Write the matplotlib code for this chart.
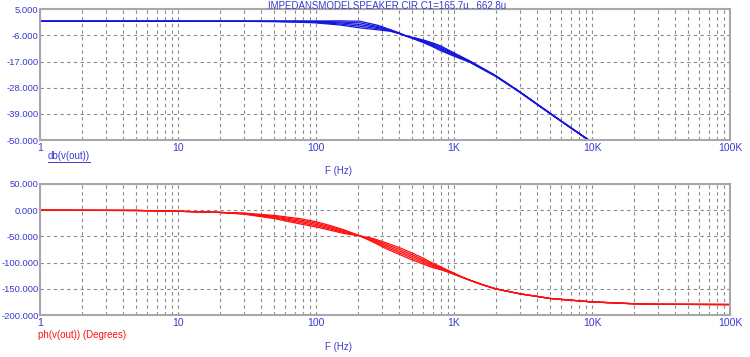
import matplotlib
matplotlib.use("Agg")
import matplotlib.pyplot as plt
from matplotlib.lines import Line2D
from matplotlib.ticker import FixedLocator, NullFormatter

plt.rcParams["font.family"] = ["Liberation Sans", "DejaVu Sans"]

# magnitude, dB, five runs of C1 from 165.7u to 662.8u
mag_freq = [1, 10, 30, 50, 70, 100, 150, 208, 280, 344, 400, 454, 520, 600, 700, 794,
            1000, 1302, 2000, 3000, 5000, 7000, 10000, 20000, 50000, 100000]
mag_c1 = [0, 0, 0, 0.05, 0.1, 0.1, 0.15, 0.0, -1.7, -3.5, -4.9, -6.3, -7.6, -9.0, -10.7, -12.3,
          -14.7, -17.3, -23.15, -29.9, -39.0, -44.9, -51.1, -63.1, -79.0, -91.0]
mag_c2 = [0, 0, 0, 0, 0, -0.1, -0.3, -0.7, -2.2, -3.7, -5.0, -6.3, -7.45, -8.7, -10.3, -11.8,
          -14.35, -17.15, -23.1, -29.85, -38.95, -44.85, -51.05, -63.05, -78.95, -90.95]
mag_c3 = [0, 0, -0.02, -0.05, -0.12, -0.3, -0.7, -1.4, -2.65, -3.85, -5.05, -6.3, -7.3, -8.45, -9.9, -11.3,
          -14.0, -17.0, -23.0, -29.8, -38.9, -44.8, -51.0, -63.0, -78.9, -90.9]
mag_c4 = [0, 0, -0.04, -0.1, -0.24, -0.5, -1.15, -2.1, -3.1, -4.0, -5.1, -6.3, -7.15, -8.2, -9.5, -10.8,
          -13.65, -16.85, -22.9, -29.75, -38.85, -44.75, -50.95, -62.95, -78.85, -90.85]
mag_c5 = [0, 0, -0.05, -0.15, -0.35, -0.7, -1.6, -2.8, -3.6, -4.2, -5.2, -6.3, -7.0, -7.9, -9.1, -10.3,
          -13.3, -16.7, -22.85, -29.7, -38.8, -44.7, -50.9, -62.9, -78.8, -90.8]

# phase, degrees
ph_freq = [1, 5, 10, 20, 30, 50, 76, 100, 126, 160, 208, 260, 320, 407, 500, 600, 671, 800,
           935, 1100, 1302, 1600, 2000, 3000, 5000, 10000, 20000, 30000, 100000]
ph_c1 = [0, -0.5, -2, -4.2, -5.5, -10, -16, -22, -29, -37.5, -49, -61, -73, -85, -95, -103, -108,
         -113.5, -119.5, -126.5, -133.5, -142, -150, -159.5, -168.5, -175, -178.5, -179.5, -180]
ph_c2 = [0, -0.5, -2, -4.2, -6, -11.5, -18.5, -24.5, -31.25, -39.25, -49, -59.25, -70.25, -81.75, -91.75,
         -100.1, -105.6, -112.1, -118.75, -126.2, -133.5, -142, -150, -159.5, -168.5, -175, -178.5, -179.5, -180]
ph_c3 = [0, -0.5, -2, -4.2, -6.5, -13, -21, -27, -33.5, -41, -49, -57.5, -67.5, -78.5, -88.5,
         -97.25, -103.25, -110.75, -118, -125.9, -133.5, -142, -150, -159.5, -168.5, -175, -178.5, -179.5, -180]
ph_c4 = [0, -0.5, -2, -4.2, -7, -14.5, -23.5, -29.5, -35.75, -42.75, -49, -55.75, -64.75, -75.25, -85.25,
         -94.4, -100.9, -109.4, -117.25, -125.6, -133.5, -142, -150, -159.5, -168.5, -175, -178.5, -179.5, -180]
ph_c5 = [0, -0.5, -2, -4.2, -7.5, -16, -26, -32, -38, -44.5, -49, -54, -62, -72, -82, -91.5, -98.5,
         -108, -116.5, -125.3, -133.5, -142, -150, -159.5, -168.5, -175, -178.5, -179.5, -180]

mag_ticks = [5, -6, -17, -28, -39, -50]
ph_ticks = [50, 0, -50, -100, -150, -200]
x_ticks = [1, 10, 100, 1000, 10000, 100000]
x_labels = ["1", "10", "100", "1K", "10K", "100K"]

TXT_BLUE = "#3a3ad0"
LINE_BLUE = "#1414e0"
LINE_RED = "#ff1010"
GRID = "#8a8a8a"

fig = plt.figure(figsize=(7.5, 3.57), dpi=100)
ax1 = fig.add_axes([0.0533, 0.6078, 0.92, 0.366])
ax2 = fig.add_axes([0.0533, 0.1176, 0.92, 0.367])


def style_axes(ax, yticks):
    ax.set_xscale("log")
    ax.set_xlim(1, 100000)
    ax.set_ylim(yticks[-1], yticks[0])
    ax.set_yticks(yticks)
    ax.set_yticklabels([f"{v:.3f}" for v in yticks])
    ax.set_xticks(x_ticks)
    ax.set_xticklabels(x_labels)
    minors = [m * 10 ** d for d in range(5) for m in range(2, 10)]
    ax.xaxis.set_minor_locator(FixedLocator(minors))
    ax.xaxis.set_minor_formatter(NullFormatter())
    ax.tick_params(which="both", length=0, colors=TXT_BLUE)
    ax.tick_params(axis="x", labelsize=7.5, pad=2.5)
    ax.tick_params(axis="y", labelsize=6.8, pad=1)
    ax.grid(True, which="both", axis="x", color=GRID, linestyle=(0, (3, 3)), linewidth=0.8)
    ax.grid(True, which="major", axis="y", color=GRID, linestyle=(0, (3, 3)), linewidth=0.8)
    for s in ax.spines.values():
        s.set_color("#a8a8a8")
        s.set_linewidth(1.5)


style_axes(ax1, mag_ticks)
style_axes(ax2, ph_ticks)

for ys in [mag_c1, mag_c2, mag_c3, mag_c4, mag_c5]:
    ax1.plot(mag_freq, ys, color=LINE_BLUE, lw=0.9)
for ys in [ph_c1, ph_c2, ph_c3, ph_c4, ph_c5]:
    ax2.plot(ph_freq, ys, color=LINE_RED, lw=0.9)

fig.text(0.516, 1 - 0.8 / 357, "IMPEDANSMODELSPEAKER.CIR C1=165.7u...662.8u", color=TXT_BLUE,
         fontsize=7, ha="center", va="top")

db_txt = fig.text(48 / 750, 1 - 156 / 357, "db(v(out))", color=TXT_BLUE, fontsize=7,
                  ha="left", va="center")
fig.text(0.451, 1 - 171 / 357, "F (Hz)", color=TXT_BLUE, fontsize=7, ha="center", va="center")

fig.text(38 / 750, 1 - 335 / 357, "ph(v(out)) (Degrees)", color=LINE_RED, fontsize=7,
         ha="left", va="center")
fig.text(0.451, 1 - 347 / 357, "F (Hz)", color=TXT_BLUE, fontsize=7, ha="center", va="center")

# underline the magnitude trace name
fig.canvas.draw()
bb = db_txt.get_window_extent().transformed(fig.transFigure.inverted())
fig.add_artist(Line2D([bb.x0, bb.x1], [bb.y0 - 0.002, bb.y0 - 0.002], color=TXT_BLUE, lw=0.7))

fig.savefig("out.png", dpi=100)
